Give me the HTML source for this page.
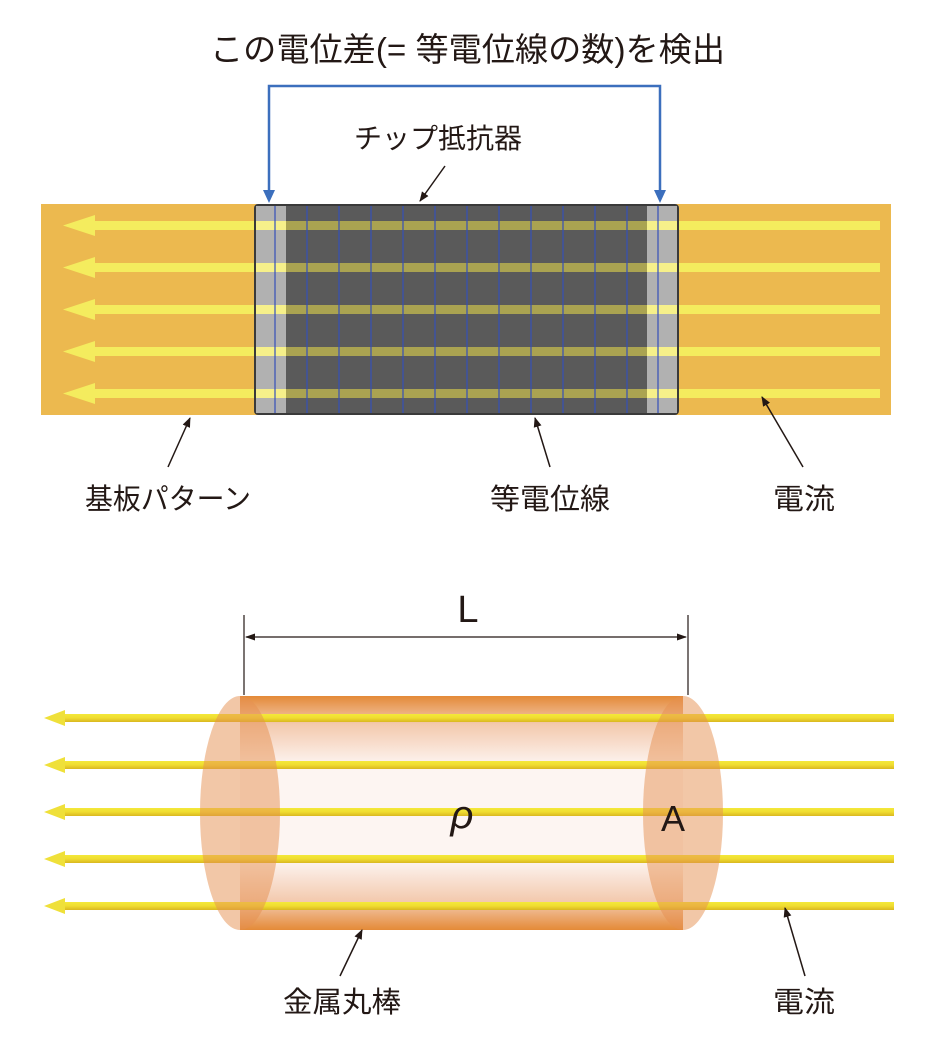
<!DOCTYPE html>
<html><head><meta charset="utf-8"><style>
html,body{margin:0;padding:0;background:#fff;}
svg{display:block;}
text{font-family:"Liberation Sans","Noto Sans CJK JP",sans-serif;fill:#231815;}
</style></head><body>
<svg width="937" height="1045" viewBox="0 0 937 1045" xmlns="http://www.w3.org/2000/svg">
<defs>
<marker id="ah" markerWidth="10" markerHeight="10" refX="9" refY="5" orient="auto" markerUnits="userSpaceOnUse">
<path d="M0,1 L10,5 L0,9 Z" fill="#231815"/></marker>
<linearGradient id="cyl" x1="0" y1="0" x2="0" y2="1">
<stop offset="0" stop-color="#e48a38"/><stop offset="0.12" stop-color="#f3c9ad"/><stop offset="0.3" stop-color="#fdf5f2"/>
<stop offset="0.7" stop-color="#fdf5f2"/><stop offset="0.88" stop-color="#f3c9ad"/><stop offset="1" stop-color="#e48a38"/></linearGradient>
<linearGradient id="rod" x1="0" y1="0" x2="0" y2="1">
<stop offset="0" stop-color="#f4e83a"/><stop offset="0.5" stop-color="#f0dc30"/><stop offset="1" stop-color="#d9b820"/></linearGradient>
</defs>

<text x="210" y="61" font-size="33" textLength="515" lengthAdjust="spacingAndGlyphs">この電位差(= 等電位線の数)を検出</text>
<path d="M269,196 V86 H660 V196" fill="none" stroke="#3c6fbd" stroke-width="2.5"/>
<path d="M263,190 L275,190 L269,203 Z" fill="#3c6fbd"/>
<path d="M654,190 L666,190 L660,203 Z" fill="#3c6fbd"/>

<text x="354" y="148" font-size="28" textLength="168" lengthAdjust="spacingAndGlyphs">チップ抵抗器</text>
<line x1="445" y1="166" x2="420" y2="201" stroke="#231815" stroke-width="1.5" marker-end="url(#ah)"/>

<rect x="41" y="204" width="850" height="211" fill="#ecb94f"/>
<g fill="#f4ec5e">
<rect x="90" y="221" width="790" height="9"/><path d="M63,225.5 L95,215 L95,236 Z"/>
<rect x="90" y="263" width="790" height="9"/><path d="M63,267.5 L95,257 L95,278 Z"/>
<rect x="90" y="305" width="790" height="9"/><path d="M63,309.5 L95,299 L95,320 Z"/>
<rect x="90" y="347" width="790" height="9"/><path d="M63,351.5 L95,341 L95,362 Z"/>
<rect x="90" y="389" width="790" height="9"/><path d="M63,393.5 L95,383 L95,404 Z"/>
</g>
<rect x="255" y="205" width="423" height="209" rx="3" fill="#5a5a5a" stroke="#3a3a3a" stroke-width="2"/>
<rect x="256" y="206" width="30" height="207" fill="#b1b1b1"/>
<rect x="647" y="206" width="30" height="207" fill="#b1b1b1"/>
<g fill="#b8b050" opacity="0.85">
<rect x="286" y="221" width="361" height="9"/><rect x="286" y="263" width="361" height="9"/><rect x="286" y="305" width="361" height="9"/><rect x="286" y="347" width="361" height="9"/><rect x="286" y="389" width="361" height="9"/>
</g>
<g fill="#f6f08a">
<rect x="256" y="221" width="30" height="9"/><rect x="256" y="263" width="30" height="9"/><rect x="256" y="305" width="30" height="9"/><rect x="256" y="347" width="30" height="9"/><rect x="256" y="389" width="30" height="9"/>
<rect x="647" y="221" width="30" height="9"/><rect x="647" y="263" width="30" height="9"/><rect x="647" y="305" width="30" height="9"/><rect x="647" y="347" width="30" height="9"/><rect x="647" y="389" width="30" height="9"/>
</g>
<g stroke="#3550b8" stroke-width="1.2">
<line x1="275" y1="206" x2="275" y2="413"/><line x1="307" y1="206" x2="307" y2="413"/><line x1="339" y1="206" x2="339" y2="413"/><line x1="371" y1="206" x2="371" y2="413"/><line x1="403" y1="206" x2="403" y2="413"/><line x1="435" y1="206" x2="435" y2="413"/><line x1="467" y1="206" x2="467" y2="413"/><line x1="499" y1="206" x2="499" y2="413"/><line x1="531" y1="206" x2="531" y2="413"/><line x1="563" y1="206" x2="563" y2="413"/><line x1="595" y1="206" x2="595" y2="413"/><line x1="627" y1="206" x2="627" y2="413"/><line x1="658" y1="206" x2="658" y2="413"/>
</g>

<line x1="168" y1="467" x2="190" y2="418" stroke="#231815" stroke-width="1.5" marker-end="url(#ah)"/>
<line x1="550" y1="467" x2="535" y2="418" stroke="#231815" stroke-width="1.5" marker-end="url(#ah)"/>
<line x1="803" y1="467" x2="762" y2="397" stroke="#231815" stroke-width="1.5" marker-end="url(#ah)"/>
<text x="85" y="509" font-size="29" textLength="166" lengthAdjust="spacingAndGlyphs">基板パターン</text>
<text x="490" y="509" font-size="29" textLength="120" lengthAdjust="spacingAndGlyphs">等電位線</text>
<text x="773" y="509" font-size="29" textLength="62" lengthAdjust="spacingAndGlyphs">電流</text>

<text x="468" y="622" font-size="38" text-anchor="middle">L</text>
<line x1="244" y1="615" x2="244" y2="695" stroke="#231815" stroke-width="1.2"/>
<line x1="688" y1="615" x2="688" y2="695" stroke="#231815" stroke-width="1.2"/>
<line x1="246" y1="637" x2="686" y2="637" stroke="#231815" stroke-width="1.2"/>
<path d="M245,637 L255,633.5 L255,640.5 Z M687,637 L677,633.5 L677,640.5 Z" fill="#231815"/>

<rect x="240" y="696" width="443" height="234" fill="url(#cyl)"/>
<g fill="url(#rod)">
<rect x="60" y="714" width="834" height="8"/><rect x="60" y="761" width="834" height="8"/><rect x="60" y="808" width="834" height="8"/><rect x="60" y="855" width="834" height="8"/><rect x="60" y="902" width="834" height="8"/>
</g>
<g fill="#efe03a">
<path d="M44,718 L65,710 L65,726 Z"/><path d="M44,765 L65,757 L65,773 Z"/><path d="M44,812 L65,804 L65,820 Z"/><path d="M44,859 L65,851 L65,867 Z"/><path d="M44,906 L65,898 L65,914 Z"/>
</g>
<ellipse cx="240" cy="813" rx="40" ry="117" fill="#e69050" opacity="0.5"/>
<ellipse cx="683" cy="813" rx="40" ry="117" fill="#e69050" opacity="0.5"/>
<text x="462" y="828" font-size="40" font-style="italic" text-anchor="middle">ρ</text>
<text x="673" y="831" font-size="36" text-anchor="middle">A</text>

<line x1="340" y1="976" x2="362" y2="930" stroke="#231815" stroke-width="1.5" marker-end="url(#ah)"/>
<line x1="805" y1="976" x2="785" y2="908" stroke="#231815" stroke-width="1.5" marker-end="url(#ah)"/>
<text x="283" y="1012" font-size="29" textLength="118" lengthAdjust="spacingAndGlyphs">金属丸棒</text>
<text x="773" y="1012" font-size="29" textLength="62" lengthAdjust="spacingAndGlyphs">電流</text>
</svg>
</body></html>
